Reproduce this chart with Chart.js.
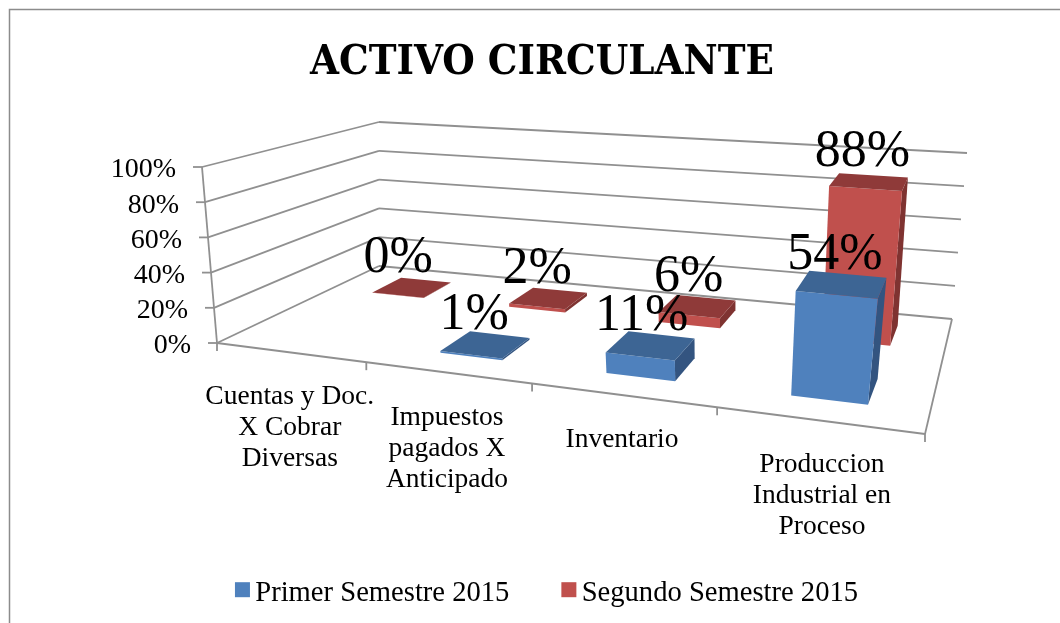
<!DOCTYPE html>
<html>
<head>
<meta charset="utf-8">
<title>Activo Circulante</title>
<script src="https://cdn.jsdelivr.net/npm/chart.js@4"></script>
<style>
  html, body { margin: 0; padding: 0; background: #fff; overflow: hidden; }
  canvas { display: block; }
</style>
</head>
<body>
<canvas id="chart-activo" width="1060" height="623"></canvas>
<script>
const categories = [
    ['Cuentas y Doc.', 'X Cobrar', 'Diversas'],
    ['Impuestos', 'pagados X', 'Anticipado'],
    ['Inventario'],
    ['Produccion', 'Industrial en', 'Proceso']
];
const primerSemestre = [null, 1, 11, 54];
const segundoSemestre = [0.2, 2, 6, 88];
const yTicks = [0, 20, 40, 60, 80, 100];

const serif = '"Liberation Serif", serif';

// corners of the 3D box on screen: front-left, front-right, back-right, back-left
const floorQuad = [[217, 343], [925, 434], [952, 319], [379, 266]];
const topQuad = [[202, 167], [955, 229], [967, 153], [379, 122]];

// depth range of each series inside the box (0 front, 1 back)
const depthRange = [[0.15, 0.355], [0.66, 0.87]];
const barShift = 0.002;

const faces = [
    { front: '#4f81bd', top: '#3d6594', side: '#335480' },
    { front: '#c0504d', top: '#8f3a39', side: '#7f3331' }
];

// unit square -> quad homography
function quadMap(q) {
    const [p0, p1, p2, p3] = q;
    const dx1 = p1[0] - p2[0], dx2 = p3[0] - p2[0], sx = p0[0] - p1[0] + p2[0] - p3[0];
    const dy1 = p1[1] - p2[1], dy2 = p3[1] - p2[1], sy = p0[1] - p1[1] + p2[1] - p3[1];
    const det = dx1 * dy2 - dx2 * dy1;
    const g = (sx * dy2 - dx2 * sy) / det;
    const h = (dx1 * sy - sx * dy1) / det;
    const a = p1[0] - p0[0] + g * p1[0], b = p3[0] - p0[0] + h * p3[0];
    const d = p1[1] - p0[1] + g * p1[1], e = p3[1] - p0[1] + h * p3[1];
    return (u, v) => {
        const w = g * u + h * v + 1;
        return [(a * u + b * v + p0[0]) / w, (d * u + e * v + p0[1]) / w];
    };
}
const floorAt = quadMap(floorQuad);
const topAt = quadMap(topQuad);

function project(u, h, d) {
    // small correction, the front edge has a bit less perspective than the corners give
    const uu = u + 0.024 * u * (1 - u);
    const f = floorAt(uu, d), t = topAt(uu, d);
    return [f[0] + (t[0] - f[0]) * h, f[1] + (t[1] - f[1]) * h];
}

function poly(ctx, pts, fill) {
    ctx.beginPath();
    pts.forEach((p, i) => i ? ctx.lineTo(p[0], p[1]) : ctx.moveTo(p[0], p[1]));
    ctx.closePath();
    ctx.fillStyle = fill;
    ctx.fill();
}

function line(ctx, a, b) {
    ctx.beginPath();
    ctx.moveTo(a[0], a[1]);
    ctx.lineTo(b[0], b[1]);
    ctx.stroke();
}

// scale pixels -> box coordinates
function toU(area, px) { return (px - area.left) / area.width; }
function toH(area, px) { return (area.bottom - px) / area.height; }

const box3d = {
    id: 'box3d',
    beforeDatasetsDraw(chart) {
        const ctx = chart.ctx, area = chart.chartArea, yScale = chart.scales.y, xScale = chart.scales.x;
        ctx.save();
        // outer frame
        ctx.strokeStyle = '#8c8c8c';
        ctx.lineWidth = 1.5;
        ctx.beginPath();
        ctx.moveTo(9.5, 630);
        ctx.lineTo(9.5, 9.5);
        ctx.lineTo(1070, 9.5);
        ctx.stroke();

        // gridlines on side and back wall
        ctx.strokeStyle = '#909090';
        ctx.lineWidth = 1.8;
        yScale.ticks.forEach(t => {
            const h = toH(area, yScale.getPixelForValue(t.value));
            const a = project(0, h, 0), b = project(0, h, 1), c = project(1, h, 1);
            line(ctx, [a[0] - 9, a[1]], a);
            line(ctx, a, b);
            line(ctx, b, c);
        });
        line(ctx, project(0, 0, 0), project(0, 1, 0));

        // floor edges and category ticks
        line(ctx, project(0, 0, 0), project(1, 0, 0));
        line(ctx, project(1, 0, 0), project(1, 0, 1));
        categories.concat([null]).forEach((c, i) => {
            const p = project(i / categories.length, 0, 0);
            line(ctx, p, [p[0], p[1] + 8]);
        });

        // bars, back series first
        [1, 0].forEach(ds => {
            const [d0, d1] = depthRange[ds];
            const values = chart.data.datasets[ds].data;
            chart.getDatasetMeta(ds).data.forEach((bar, i) => {
                if (values[i] === null) return;
                const u0 = toU(area, bar.x - bar.width / 2) + barShift, u1 = toU(area, bar.x + bar.width / 2) + barShift;
                const h = toH(area, bar.y);
                const col = faces[ds];
                poly(ctx, [project(u1, 0, d0), project(u1, 0, d1), project(u1, h, d1), project(u1, h, d0)], col.side);
                poly(ctx, [project(u0, 0, d0), project(u1, 0, d0), project(u1, h, d0), project(u0, h, d0)], col.front);
                poly(ctx, [project(u0, h, d0), project(u1, h, d0), project(u1, h, d1), project(u0, h, d1)], col.top);
            });
        });

        // value labels
        ctx.fillStyle = '#000';
        ctx.font = '52px ' + serif;
        ctx.textAlign = 'center';
        ctx.textBaseline = 'bottom';
        [1, 0].forEach(ds => {
            const [d0, d1] = depthRange[ds];
            const values = chart.data.datasets[ds].data;
            chart.getDatasetMeta(ds).data.forEach((bar, i) => {
                if (values[i] === null) return;
                const u = toU(area, bar.x);
                const p = project(u, toH(area, bar.y), (d0 + d1) / 2);
                ctx.fillText(Math.round(values[i]) + '%', p[0] - 14 + 10 * u, p[1] - 3);
            });
        });

        // y axis labels
        ctx.font = '28px ' + serif;
        ctx.textAlign = 'right';
        ctx.textBaseline = 'middle';
        yScale.ticks.forEach(t => {
            const p = project(0, toH(area, yScale.getPixelForValue(t.value)), 0);
            ctx.fillText(t.value + '%', p[0] - 26, p[1] + 3);
        });

        // category labels
        ctx.font = '27.5px ' + serif;
        ctx.textAlign = 'center';
        ctx.textBaseline = 'top';
        categories.forEach((lines, i) => {
            const p = project(toU(area, xScale.getPixelForValue(i)), 0, 0);
            lines.forEach((txt, k) => ctx.fillText(txt, p[0] + (i === 3 ? 4 : 0), p[1] + 31 + k * 31));
        });
        ctx.restore();
        return false;
    },
    afterDraw(chart) {
        // legend squares sit closer to their text than the library's own spacing
        const ctx = chart.ctx;
        chart.legend.legendHitBoxes.forEach((hit, i) => {
            ctx.fillStyle = faces[i].front;
            ctx.fillRect(hit.left + 9, hit.top + (hit.height - 15) / 2 - 4, 15, 15);
        });
    }
};

new Chart(document.getElementById('chart-activo'), {
    type: 'bar',
    data: {
        labels: categories.map(c => c.join(' ')),
        datasets: [
            { label: 'Primer Semestre 2015', data: primerSemestre, backgroundColor: '#4f81bd', barPercentage: 0.385, categoryPercentage: 1, grouped: false },
            { label: 'Segundo Semestre 2015', data: segundoSemestre, backgroundColor: '#c0504d', barPercentage: 0.385, categoryPercentage: 1, grouped: false }
        ]
    },
    plugins: [box3d],
    options: {
        responsive: false,
        animation: false,
        layout: { padding: { top: 10, left: 44, right: 20, bottom: 5 } },
        scales: {
            x: { display: false },
            y: { display: false, min: 0, max: 100, afterBuildTicks: s => { s.ticks = yTicks.map(v => ({ value: v })); } }
        },
        plugins: {
            title: {
                display: true,
                text: 'ACTIVO CIRCULANTE',
                color: '#000',
                font: { family: '"DejaVu Serif Condensed", "DejaVu Serif", serif', size: 41.5, weight: 'bold' },
                padding: { top: 28, bottom: 10 }
            },
            legend: {
                position: 'bottom',
                labels: {
                    color: '#000',
                    font: { family: serif, size: 28.6 },
                    boxWidth: 15,
                    boxHeight: 15,
                    padding: 43,
                    generateLabels: chart => Chart.defaults.plugins.legend.labels.generateLabels(chart)
                        .map(l => ({ ...l, fillStyle: 'transparent', strokeStyle: 'transparent' }))
                }
            },
            tooltip: { enabled: false }
        }
    }
});
</script>
</body>
</html>
